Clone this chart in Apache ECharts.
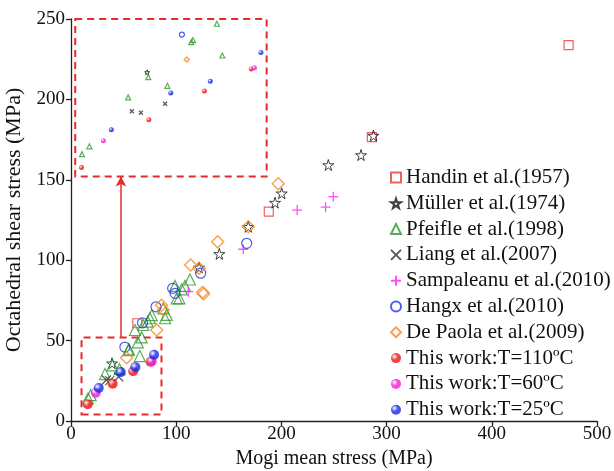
<!DOCTYPE html>
<html>
<head>
<meta charset="utf-8">
<script src="https://cdn.jsdelivr.net/npm/echarts@6/dist/echarts.min.js"></script>
<style>
  html, body { margin: 0; padding: 0; background: #fff; }
  #chart { width: 614px; height: 471px; }
</style>
</head>
<body>
<div id="chart"></div>
<script>
// data, [Mogi mean stress, octahedral shear stress] in MPa
var handin = [[63, 60.8], [188, 130.2], [286, 176.6], [473, 233.8]];
var muller = [[39, 35.9], [121.7, 95.5], [141, 103.9], [168.5, 120.8], [194, 135.8], [200.3, 141.6], [244.6, 159.2], [275.7, 165.4], [287.5, 177.5]];
var pfeifle = [[16.1, 14], [18.7, 16.1], [32.3, 29.2], [39.4, 34.6], [46.1, 32.3], [54.5, 44], [55.1, 44.5],
    [63.5, 48.9], [65.4, 40.4], [60.8, 56.6], [67.2, 52], [68.7, 59.7], [72.9, 61.8], [75, 63.9], [76.7, 65.9],
    [87.7, 70], [89.4, 63.9], [91, 66], [98.9, 84], [100.5, 76.3], [103, 76.3], [105.2, 81.9], [108.4, 84], [113, 88]];
var liang = [[33.6, 25.5], [36.8, 25.1], [45.3, 27.5]];
var sampaleanu = [[111.5, 80.4], [163.8, 106.8], [215, 131.2], [242, 133], [249.3, 139.5]];
var hangx = [[51.2, 46], [68, 61], [80.8, 71], [96.6, 82.5], [98.9, 79.4], [123.3, 91.9], [167, 110.5]];
var dePaola = [[52.9, 39.3], [81.5, 56.6], [86, 72], [87.8, 69], [113.8, 97], [121.7, 95], [125.2, 80], [126, 79], [139.4, 111.5], [168.5, 120.8], [197, 147.6]];
var work110 = [[15.9, 10.4], [39.6, 23.2], [59.1, 30.9], [75.6, 36.8]];
var work60 = [[23.6, 17.6], [76.7, 37.1]];
var work25 = [[26.4, 20.5], [47.3, 30.4], [61.2, 33.5], [79, 41.2]];

var names = ['Handin et al.(1957)', 'Müller et al.(1974)', 'Pfeifle et al.(1998)', 'Liang et al.(2007)',
    'Sampaleanu et al.(2010)', 'Hangx et al.(2010)', 'De Paola et al.(2009)',
    'This work:T=110ºC', 'This work:T=60ºC', 'This work:T=25ºC'];

// zoom box (small) and enlarged box (big) in data units
var smallBox = [[10, 4], [86, 52]];
var bigBox = [[4, 251], [186, 152]];
var insetX = [13.7, 81];
var insetY = [8, 50.6];

var font = 'Liberation Serif';
var hollow = 'rgba(255,255,255,0)';
var starPath = 'path://M50,0 L61,35 L98,35 L68,57 L79,91 L50,70 L21,91 L32,57 L2,35 L39,35 Z';
var crossPath = 'path://M0,0 L10,10 M10,0 L0,10';
var plusPath = 'path://M5,0 L5,10 M0,5 L10,5';

function ball(c) {
    return {
        type: 'radial', x: 0.35, y: 0.35, r: 0.75,
        colorStops: [{offset: 0, color: '#ffffff'}, {offset: 0.45, color: c}, {offset: 1, color: c}]
    };
}

var styles = [
    {data: handin, symbol: 'rect', size: 9, itemStyle: {color: hollow, borderColor: '#e8393a', borderWidth: 1.2}},
    {data: muller, symbol: starPath, size: 11, itemStyle: {color: hollow, borderColor: '#111', borderWidth: 1}},
    {data: pfeifle, symbol: 'triangle', size: 11, itemStyle: {color: hollow, borderColor: '#2e9a2e', borderWidth: 1.2}},
    {data: liang, symbol: crossPath, size: 9, itemStyle: {color: hollow, borderColor: '#333', borderWidth: 1.3}},
    {data: sampaleanu, symbol: plusPath, size: 10, itemStyle: {color: hollow, borderColor: '#ff22ff', borderWidth: 1.3}},
    {data: hangx, symbol: 'circle', size: 10, itemStyle: {color: hollow, borderColor: '#2233ee', borderWidth: 1.2}},
    {data: dePaola, symbol: 'diamond', size: 12, itemStyle: {color: hollow, borderColor: '#f58a1f', borderWidth: 1.4}},
    {data: work110, symbol: 'circle', size: 10, itemStyle: {color: ball('#f21010')}},
    {data: work60, symbol: 'circle', size: 10, itemStyle: {color: ball('#f01cd8')}},
    {data: work25, symbol: 'circle', size: 10, itemStyle: {color: ball('#1428e8')}}
];

var series = [];
styles.forEach(function (s, i) {
    series.push({
        name: names[i], type: 'scatter', data: s.data, symbol: s.symbol, symbolSize: s.size,
        itemStyle: s.itemStyle, xAxisIndex: 0, yAxisIndex: 0, z: 3 + i
    });
});
styles.forEach(function (s, i) {
    series.push({
        name: names[i], type: 'scatter', data: s.data, symbol: s.symbol, symbolSize: Math.round(s.size * 0.45),
        itemStyle: s.itemStyle, xAxisIndex: 1, yAxisIndex: 1, clip: true, z: 3 + i
    });
});

// dashed boxes and arrow
var red = '#e82a2a';
series.push({
    type: 'scatter', data: [], xAxisIndex: 0, yAxisIndex: 0, silent: true,
    markArea: {
        silent: true,
        itemStyle: {color: 'transparent', borderColor: red, borderWidth: 2, borderType: [7, 5]},
        data: [
            [{coord: smallBox[0]}, {coord: smallBox[1]}],
            [{coord: bigBox[0]}, {coord: bigBox[1]}]
        ]
    },
    markLine: {
        silent: true, symbol: ['none', 'arrow'], symbolSize: [8, 10],
        lineStyle: {color: red, type: 'solid', width: 1.5},
        label: {show: false},
        data: [[{coord: [47.5, smallBox[1][1]]}, {coord: [47.5, bigBox[1][1]]}]]
    }
});

var chart = echarts.init(document.getElementById('chart'));
var option = {
    animation: false,
    backgroundColor: '#fff',
    textStyle: {fontFamily: font},
    grid: [
        {left: 71, right: 17, top: 19, bottom: 50, containLabel: false, outerBoundsMode: 'none'},
        {left: 75, top: 17, width: 192, height: 159, outerBoundsMode: 'none'}
    ],
    legend: {
        data: names, orient: 'vertical', left: 385, top: 162,
        itemWidth: 10, itemHeight: 10, itemGap: 4.8,
        textStyle: {fontFamily: font, fontSize: 21, color: '#111', lineHeight: 20}
    },
    xAxis: [{
        type: 'value', min: 0, max: 500, interval: 100, gridIndex: 0,
        name: 'Mogi mean stress (MPa)', nameLocation: 'middle', nameGap: 25,
        nameTextStyle: {fontFamily: font, fontSize: 20, color: '#111'},
        axisLine: {lineStyle: {color: '#222', width: 1.3}},
        axisTick: {length: 5, lineStyle: {color: '#222', width: 1.3}},
        axisLabel: {fontFamily: font, fontSize: 19, color: '#111', margin: 4},
        splitLine: {show: false}
    }, {
        type: 'value', min: insetX[0], max: insetX[1], gridIndex: 1, show: false
    }],
    yAxis: [{
        type: 'value', min: 0, max: 250, interval: 50, gridIndex: 0,
        name: 'Octahedral shear stress (MPa)', nameLocation: 'middle', nameGap: 39,
        nameTextStyle: {fontFamily: font, fontSize: 22, color: '#111'},
        axisLine: {show: true, lineStyle: {color: '#222', width: 1.3}},
        axisTick: {show: true, length: 5, lineStyle: {color: '#222', width: 1.3}},
        axisLabel: {fontFamily: font, fontSize: 19, color: '#111', margin: 6},
        splitLine: {show: false}
    }, {
        type: 'value', min: insetY[0], max: insetY[1], gridIndex: 1, show: false
    }],
    series: series
};
chart.setOption(option);

// place the inset grid exactly inside the big dashed box
var p0 = chart.convertToPixel({xAxisIndex: 0, yAxisIndex: 0}, bigBox[0]);
var p1 = chart.convertToPixel({xAxisIndex: 0, yAxisIndex: 0}, bigBox[1]);
chart.setOption({
    grid: [{}, {left: p0[0], top: p0[1], width: p1[0] - p0[0], height: p1[1] - p0[1]}]
});
</script>
</body>
</html>
